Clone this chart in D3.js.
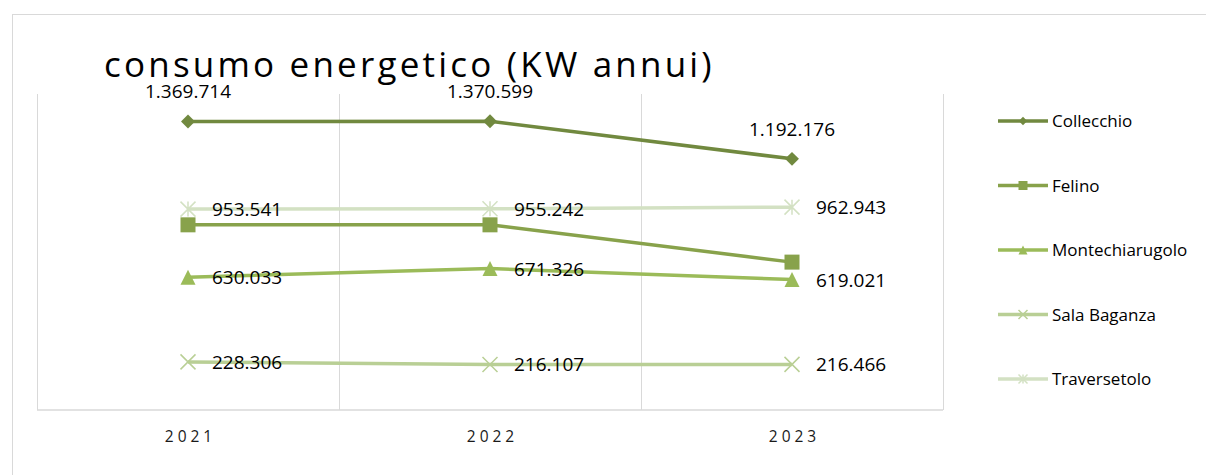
<!DOCTYPE html>
<html>
<head>
<meta charset="utf-8">
<script src="https://cdn.jsdelivr.net/npm/d3@7"></script>
<style>
  body { margin: 0; background: #fff; }
  text { font-family: "Open Sans", "Noto Sans", sans-serif; }
</style>
</head>
<body>
<div class="vis-linechart"></div>
<script>
// data
const years = ["2021", "2022", "2023"];
const seriesNames = ["Collecchio", "Felino", "Montechiarugolo", "Sala Baganza", "Traversetolo"];
const collecchio = [1369714, 1370599, 1192176];
const felino = [879000, 879000, 702000];
const montechiarugolo = [630033, 671326, 619021];
const salaBaganza = [228306, 216107, 216466];
const traversetolo = [953541, 955242, 962943];
const yDomain = [0, 1500000];

const seriesValues = [collecchio, felino, montechiarugolo, salaBaganza, traversetolo];

// styles per series
const colors = ["#71893f", "#88a24b", "#9bbb59", "#b9cf95", "#d3e1c3"];
const symbols = ["diamond", "square", "triangle", "cross", "star"];
const labelPos = ["above", "none", "right", "right", "right"];

const chartWidth = 1206;
const chartHeight = 475;
const plot = { left: 37, right: 943, top: 94, bottom: 410 };

const svg = d3.select(".vis-linechart").append("svg")
    .attr("width", chartWidth)
    .attr("height", chartHeight);

// outer frame
svg.append("rect")
    .attr("x", 12.5).attr("y", 14.5)
    .attr("width", 1200).attr("height", 470)
    .attr("fill", "none").attr("stroke", "#d9d9d9");

const x = d3.scalePoint()
    .domain(years)
    .range([plot.left, plot.right])
    .padding(0.5);
const step = x.step();

const y = d3.scaleLinear()
    .domain(yDomain)
    .range([plot.bottom, plot.top]);

// vertical gridlines (category boundaries)
const bounds = d3.range(years.length + 1).map(i => plot.left + i * step);
svg.append("g").selectAll("line")
    .data(bounds)
    .enter().append("line")
    .attr("x1", d => Math.round(d) + 0.5).attr("x2", d => Math.round(d) + 0.5)
    .attr("y1", plot.top).attr("y2", plot.bottom)
    .attr("stroke", "#d9d9d9").attr("stroke-width", 1);

// x axis
const xAxis = svg.append("g")
    .attr("transform", "translate(0," + plot.bottom + ")")
    .call(d3.axisBottom(x).tickSize(0).tickPadding(21));
xAxis.select(".domain").attr("stroke", "#d9d9d9").attr("stroke-width", 1.5)
    .attr("d", "M" + plot.left + ",0H" + plot.right);
xAxis.selectAll("text")
    .attr("font-size", 15.5)
    .attr("letter-spacing", 4)
    .attr("dx", 2)
    .attr("fill", "#1a1a1a")
    .attr("font-family", "Open Sans");

// title
svg.append("text")
    .attr("x", 104).attr("y", 77)
    .attr("font-size", 35)
    .attr("letter-spacing", 3.2)
    .attr("fill", "#000")
    .text("consumo energetico (KW annui)");

function drawSymbol(g, type, size, color) {
  const h = size / 2;
  if (type === "diamond") {
    g.append("path").attr("d", d3.symbol(d3.symbolDiamond2, size * size * 0.55)())
      .attr("fill", color);
  } else if (type === "square") {
    g.append("rect").attr("x", -h).attr("y", -h).attr("width", size).attr("height", size)
      .attr("fill", color);
  } else if (type === "triangle") {
    g.append("path").attr("d", "M0," + (-h) + "L" + h + "," + h + "L" + (-h) + "," + h + "Z")
      .attr("fill", color);
  } else if (type === "cross") {
    g.append("path").attr("d", "M" + (-h) + "," + (-h) + "L" + h + "," + h + "M" + h + "," + (-h) + "L" + (-h) + "," + h)
      .attr("stroke", color).attr("stroke-width", 1.5).attr("fill", "none");
  } else if (type === "star") {
    g.append("path").attr("d", "M" + (-h) + "," + (-h) + "L" + h + "," + h + "M" + h + "," + (-h) + "L" + (-h) + "," + h + "M0," + (-h) + "V" + h)
      .attr("stroke", color).attr("stroke-width", 1.5).attr("fill", "none");
  }
}

const line = d3.line()
    .x((d, i) => x(years[i]))
    .y(d => y(d));

seriesValues.forEach(function(vals, s) {
  const g = svg.append("g");
  g.append("path")
      .datum(vals)
      .attr("d", line)
      .attr("fill", "none")
      .attr("stroke", colors[s])
      .attr("stroke-width", 3.5);
  vals.forEach(function(v, i) {
    const m = g.append("g").attr("transform", "translate(" + x(years[i]) + "," + y(v) + ")");
    drawSymbol(m, symbols[s], 15, colors[s]);
  });
});

// data labels
const fmt = v => d3.format(",")(v).replace(/,/g, ".");
seriesValues.forEach(function(vals, s) {
  if (labelPos[s] === "none") return;
  vals.forEach(function(v, i) {
    const t = svg.append("text")
        .attr("font-size", 19)
        .attr("fill", "#000")
        .text(fmt(v));
    if (labelPos[s] === "above") {
      t.attr("x", x(years[i])).attr("y", y(v) - 23).attr("text-anchor", "middle");
    } else {
      t.attr("x", x(years[i]) + 24).attr("y", y(v) + 7);
    }
  });
});

// legend
const legend = svg.append("g");
seriesNames.forEach(function(name, s) {
  const ly = 121 + s * 64.5;
  const lg = legend.append("g").attr("transform", "translate(0," + ly + ")");
  lg.append("line").attr("x1", 998).attr("x2", 1048)
    .attr("stroke", colors[s]).attr("stroke-width", 3.5);
  const m = lg.append("g").attr("transform", "translate(1023,0)");
  drawSymbol(m, symbols[s], 9, colors[s]);
  lg.append("text").attr("x", 1052).attr("y", 6)
    .attr("font-size", 17).attr("fill", "#000").text(name);
});
</script>
</body>
</html>
